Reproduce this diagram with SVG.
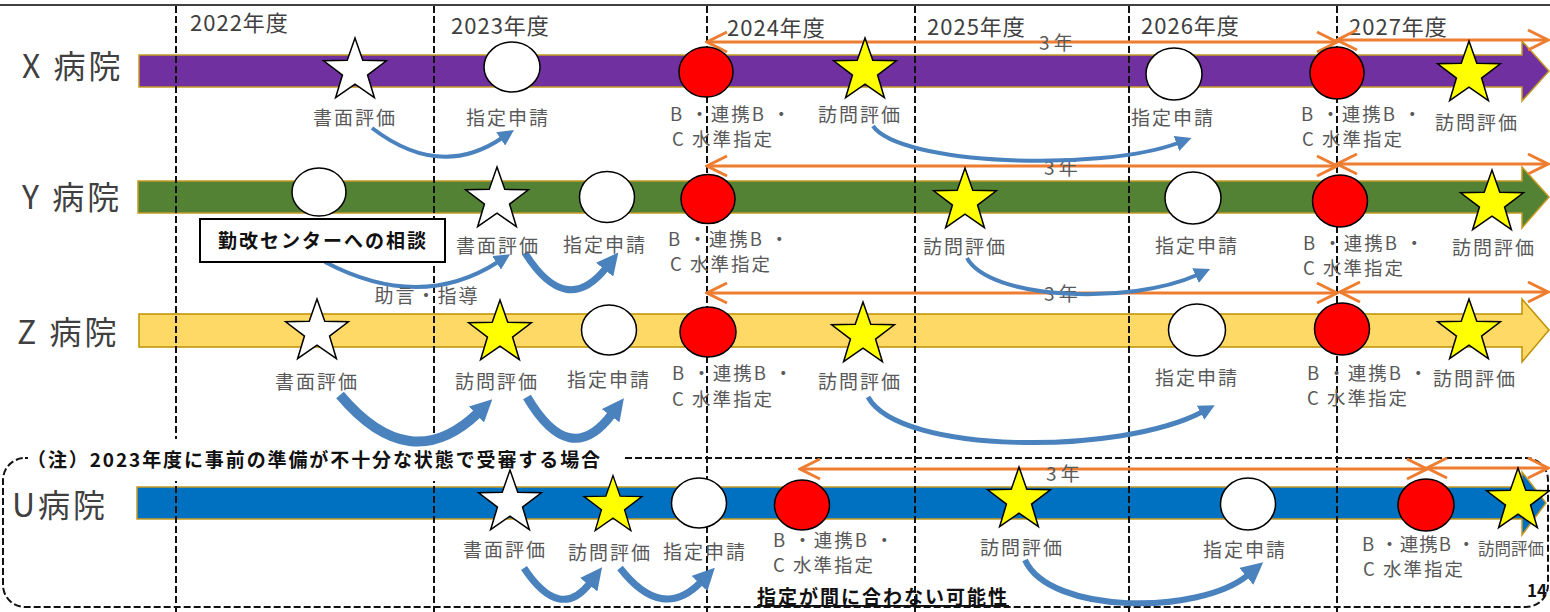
<svg xmlns="http://www.w3.org/2000/svg" width="1550" height="612" viewBox="0 0 1550 612">
<style>
text{font-family:"Noto Sans CJK JP","Noto Sans",sans-serif;}
.lbl{font-size:19px;fill:#595959;letter-spacing:2px;}
.bc{font-size:18.5px;fill:#595959;letter-spacing:2px;}
.yr{font-size:22px;fill:#404040;letter-spacing:1px;}
.hosp{font-size:32px;fill:#404040;letter-spacing:3px;}
.bar{stroke:#C49A22;stroke-width:1.5;}
.grid{stroke:#111;stroke-width:2;stroke-dasharray:7 3;fill:none;}
.wc{fill:#fff;stroke:#000;stroke-width:1.5;}
.rc{fill:#FF0000;stroke:#000;stroke-width:1.5;}
.ws{fill:#fff;stroke:#000;stroke-width:1.5;}
.ys{fill:#FFFF00;stroke:#000;stroke-width:1.5;}
.blue{fill:none;stroke:#4A82BE;stroke-linecap:butt;}
.bs{marker-end:url(#bheadS);}
.bl{marker-end:url(#bheadL);}
.orange{fill:none;stroke:#ED7D31;stroke-width:3;marker-start:url(#chev);marker-end:url(#chev);}
.three{font-size:19px;fill:#595959;}
.bold{font-weight:bold;fill:#111;}
</style>
<defs>
<polygon id="star" points="0,-33 7.76,-10.68 31.39,-10.2 12.55,4.08 19.4,26.7 0,13.2 -19.4,26.7 -12.55,4.08 -31.39,-10.2 -7.76,-10.68"/>
<marker id="bheadS" viewBox="0 0 20 20" refX="2" refY="10" markerWidth="16" markerHeight="16" markerUnits="userSpaceOnUse" orient="auto"><path d="M0,0 L20,10 L0,20 Z" fill="#4A82BE"/></marker>
<marker id="bheadL" viewBox="0 0 20 20" refX="2" refY="10" markerWidth="22" markerHeight="22" markerUnits="userSpaceOnUse" orient="auto"><path d="M0,0 L20,10 L0,20 Z" fill="#4A82BE"/></marker>
<marker id="chev" viewBox="0 0 24 24" refX="22" refY="12" markerWidth="24" markerHeight="24" markerUnits="userSpaceOnUse" orient="auto-start-reverse"><path d="M2,2 L22,12 L2,22" fill="none" stroke="#ED7D31" stroke-width="3"/></marker>
</defs>
<rect width="1550" height="612" fill="#fff"/>
<line x1="0" y1="5" x2="1550" y2="5" stroke="#404040" stroke-width="2"/>

<g id="bars">
<path class="bar" fill="#7030A0" d="M139,55 H1522 V41 L1549,71 L1522,101 V87 H139 Z"/>
<path class="bar" fill="#548235" d="M138,181 H1522 V167 L1549,197 L1522,228 V213 H138 Z"/>
<path class="bar" fill="#FFD966" style="stroke:#BF9000" d="M139,314 H1522 V299 L1549,330 L1522,362 V347 H139 Z"/>
<path class="bar" fill="#0070C0" d="M137,487 H1522 V472 L1546,503 L1522,535 V519 H137 Z"/>
</g>

<g id="year-grid">
<line class="grid" x1="176" y1="6" x2="176" y2="612"/>
<line class="grid" x1="434" y1="6" x2="434" y2="612"/>
<line class="grid" x1="707" y1="6" x2="707" y2="612"/>
<line class="grid" x1="915" y1="6" x2="915" y2="612"/>
<line class="grid" x1="1129" y1="6" x2="1129" y2="612"/>
<line class="grid" x1="1337" y1="6" x2="1337" y2="612"/>
<text class="yr" x="190" y="31">2022年度</text>
<text class="yr" x="451" y="34">2023年度</text>
<text class="yr" x="727" y="36">2024年度</text>
<text class="yr" x="927" y="35">2025年度</text>
<text class="yr" x="1141" y="34">2026年度</text>
<text class="yr" x="1349" y="35">2027年度</text>
</g>

<g id="note-frame">
<rect class="grid" x="3" y="458" width="1545" height="149" rx="22"/>
<rect x="28" y="439" width="594" height="42" fill="#fff"/>
<text class="bold" x="27" y="467" font-size="19" letter-spacing="1.9">（注）2023年度に事前の準備が不十分な状態で受審する場合</text>
</g>

<g id="hospital-labels">
<text class="hosp" x="22" y="78">X 病院</text>
<text class="hosp" x="22" y="209">Y 病院</text>
<text class="hosp" x="17" y="344">Z 病院</text>
<text class="hosp" x="12" y="517">U病院</text>
</g>

<g id="connectors">
<path class="orange" d="M707,42 H1337"/>
<path class="orange" d="M1337,40 H1548"/>
<path class="orange" d="M707,166 H1337"/>
<path class="orange" d="M1337,164 H1548"/>
<path class="orange" d="M707,293 H1337"/>
<path class="orange" d="M1340,292 H1548"/>
<path class="orange" d="M800,469 H1427"/>
<path class="orange" d="M1427,468 H1548"/>
<text class="three" x="1039" y="50">3 年</text>
<text class="three" x="1044" y="175">3 年</text>
<text class="three" x="1044" y="301">3 年</text>
<text class="three" x="1046" y="481">3 年</text>

<path class="blue bs" stroke-width="4" d="M372,128 Q440,180 502,138"/>
<path class="blue bs" stroke-width="4" d="M873,126 C900,165 1100,172 1178,143"/>
<path class="blue bs" stroke-width="4" d="M325,262 Q420,312 498,262"/>
<path class="blue bl" stroke-width="7" d="M525,253 Q566,318 606,268"/>
<path class="blue bs" stroke-width="4" d="M967,258 C990,300 1130,305 1197,275"/>
<path class="blue bl" stroke-width="10" d="M340,395 Q410,478 478,413"/>
<path class="blue bl" stroke-width="9" d="M527,397 Q570,470 612,414"/>
<path class="blue bs" stroke-width="5" d="M868,397 C900,455 1120,455 1202,412"/>
<path class="blue bl" stroke-width="7" d="M524,568 Q560,622 590,583"/>
<path class="blue bl" stroke-width="7" d="M620,568 Q662,622 701,582"/>
<path class="blue bl" stroke-width="6" d="M1025,560 C1050,615 1200,615 1248,575"/>
<text class="lbl" x="427" y="303" text-anchor="middle">助言・指導</text>
</g>

<g id="x-2022-shomen"><use href="#star" class="ws" x="355" y="71"/><text class="lbl" x="355" y="125" text-anchor="middle">書面評価</text></g>
<g id="x-2023-shitei"><ellipse class="wc" cx="512" cy="67" rx="28" ry="25"/><text class="lbl" x="508" y="125" text-anchor="middle">指定申請</text></g>
<g id="x-2024-bc"><ellipse class="rc" cx="706" cy="72" rx="27" ry="25"/><text class="bc" x="670" y="121">B ・連携B ・<tspan x="672" dy="25">C 水準指定</tspan></text></g>
<g id="x-2024-homon"><use href="#star" class="ys" x="865" y="71"/><text class="lbl" x="860" y="122" text-anchor="middle">訪問評価</text></g>
<g id="x-2026-shitei"><ellipse class="wc" cx="1174" cy="74" rx="28" ry="26"/><text class="lbl" x="1173" y="125" text-anchor="middle">指定申請</text></g>
<g id="x-2027-bc"><ellipse class="rc" cx="1337" cy="73" rx="27" ry="26"/><text class="bc" x="1301" y="121">B ・連携B ・<tspan x="1302" dy="25">C 水準指定</tspan></text></g>
<g id="x-2027-homon"><use href="#star" class="ys" x="1469" y="74"/><text class="lbl" x="1477" y="130" text-anchor="middle">訪問評価</text></g>

<g id="y-2022-consult"><ellipse class="wc" cx="319" cy="192" rx="27" ry="24"/><rect x="200" y="219" width="245" height="43" fill="#fff" stroke="#000" stroke-width="2"/><text class="bold" x="323" y="248" font-size="19" letter-spacing="2" text-anchor="middle">勤改センターへの相談</text></g>
<g id="y-2023-shomen"><use href="#star" class="ws" x="497" y="200"/><text class="lbl" x="498" y="253" text-anchor="middle">書面評価</text></g>
<g id="y-2023-shitei"><ellipse class="wc" cx="607" cy="197" rx="27.5" ry="25.5"/><text class="lbl" x="605" y="252" text-anchor="middle">指定申請</text></g>
<g id="y-2024-bc"><ellipse class="rc" cx="708" cy="199" rx="27" ry="24.5"/><text class="bc" x="668" y="246">B ・連携B ・<tspan x="670" dy="25">C 水準指定</tspan></text></g>
<g id="y-2025-homon"><use href="#star" class="ys" x="965" y="201"/><text class="lbl" x="965" y="254" text-anchor="middle">訪問評価</text></g>
<g id="y-2026-shitei"><ellipse class="wc" cx="1193" cy="198" rx="28" ry="26"/><text class="lbl" x="1197" y="253" text-anchor="middle">指定申請</text></g>
<g id="y-2027-bc"><ellipse class="rc" cx="1340" cy="201" rx="27.5" ry="26"/><text class="bc" x="1303" y="250">B ・連携B ・<tspan x="1303" dy="25">C 水準指定</tspan></text></g>
<g id="y-2027-homon"><use href="#star" class="ys" x="1492" y="203"/><text class="lbl" x="1494" y="255" text-anchor="middle">訪問評価</text></g>

<g id="z-2022-shomen"><use href="#star" class="ws" x="317" y="332"/><text class="lbl" x="317" y="389" text-anchor="middle">書面評価</text></g>
<g id="z-2023-homon"><use href="#star" class="ys" x="500" y="333"/><text class="lbl" x="497" y="389" text-anchor="middle">訪問評価</text></g>
<g id="z-2023-shitei"><ellipse class="wc" cx="609" cy="330" rx="27.5" ry="25"/><text class="lbl" x="609" y="387" text-anchor="middle">指定申請</text></g>
<g id="z-2024-bc"><ellipse class="rc" cx="708" cy="332" rx="28" ry="25"/><text class="bc" x="672" y="380">B ・連携B ・<tspan x="672" dy="26">C 水準指定</tspan></text></g>
<g id="z-2024-homon"><use href="#star" class="ys" x="863" y="335"/><text class="lbl" x="860" y="389" text-anchor="middle">訪問評価</text></g>
<g id="z-2026-shitei"><ellipse class="wc" cx="1197" cy="330" rx="28.5" ry="26"/><text class="lbl" x="1197" y="385" text-anchor="middle">指定申請</text></g>
<g id="z-2027-bc"><ellipse class="rc" cx="1342" cy="329" rx="27.5" ry="26"/><text class="bc" x="1307" y="380">B ・連携B ・<tspan x="1307" dy="25">C 水準指定</tspan></text></g>
<g id="z-2027-homon"><use href="#star" class="ys" x="1469" y="332"/><text class="lbl" x="1475" y="386" text-anchor="middle">訪問評価</text></g>

<g id="u-2023-shomen"><use href="#star" class="ws" x="510" y="503"/><text class="lbl" x="505" y="557" text-anchor="middle">書面評価</text></g>
<g id="u-2023-homon"><use href="#star" class="ys" transform="translate(613,506) scale(0.92)"/><text class="lbl" x="610" y="560" text-anchor="middle">訪問評価</text></g>
<g id="u-2024-shitei"><ellipse class="wc" cx="699" cy="503" rx="27.5" ry="25"/><text class="lbl" x="705" y="559" text-anchor="middle">指定申請</text></g>
<g id="u-2024-bc"><ellipse class="rc" cx="802" cy="505" rx="27.5" ry="25"/><text class="bc" x="773" y="547">B ・連携B ・<tspan x="773" dy="25">C 水準指定</tspan></text></g>
<g id="u-2025-homon"><use href="#star" class="ys" x="1019" y="500"/><text class="lbl" x="1022" y="555" text-anchor="middle">訪問評価</text></g>
<g id="u-2026-shitei"><ellipse class="wc" cx="1248" cy="504" rx="27.5" ry="26"/><text class="lbl" x="1245" y="557" text-anchor="middle">指定申請</text></g>
<g id="u-2027-bc"><ellipse class="rc" cx="1426" cy="505" rx="28" ry="26"/><text class="bc" x="1362" y="551" style="letter-spacing:1px">B ・連携B ・<tspan x="1363" dy="25" style="letter-spacing:2px">C 水準指定</tspan></text></g>
<g id="u-2027-homon"><use href="#star" class="ys" x="1518" y="501"/><text class="lbl" x="1478" y="555" style="font-size:16.5px;letter-spacing:0">訪問評価</text></g>
<g id="u-warning"><text class="bold" x="757" y="604" font-size="19" letter-spacing="2" text-decoration="underline">指定が間に合わない可能性</text></g>
<g id="page-number"><text class="bold" x="1527" y="597" font-size="17">14</text></g>
</svg>
